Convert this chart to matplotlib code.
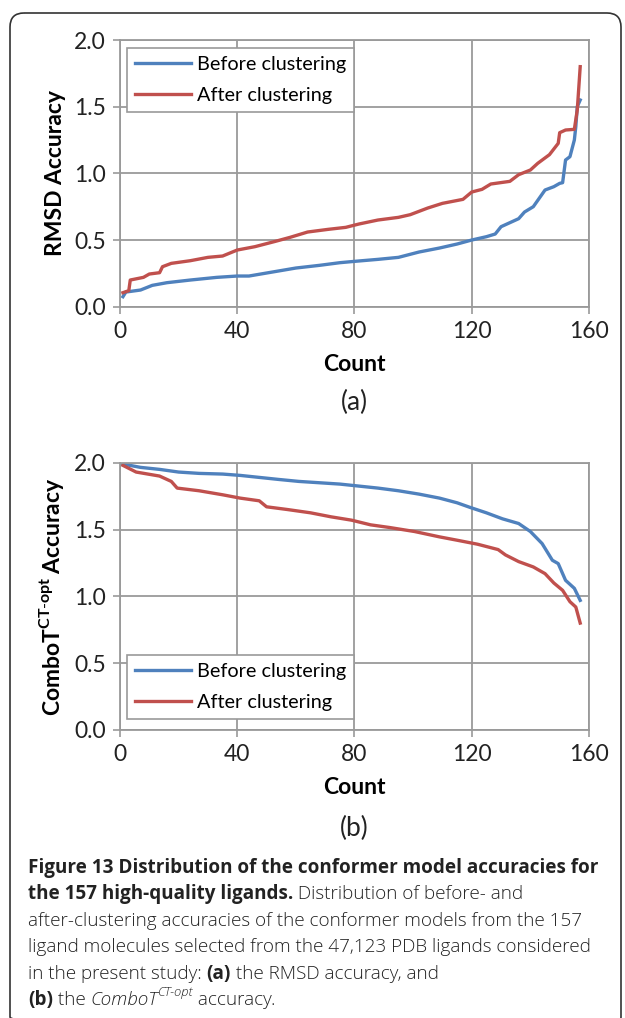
import matplotlib
matplotlib.use("Agg")
import matplotlib.pyplot as plt
from matplotlib.patches import FancyBboxPatch

# ---- data (count, accuracy) ----
rmsd_before_x = [1, 2, 7, 11, 16, 24, 33, 40, 44, 52, 60, 68, 75, 80, 88, 95, 102, 109,
                 115, 120, 125, 128, 130, 136, 138, 141, 145, 148, 150, 151, 152, 153.5,
                 155, 155.5, 156, 157]
rmsd_before_y = [0.075, 0.11, 0.125, 0.16, 0.18, 0.20, 0.22, 0.23, 0.23, 0.26, 0.29, 0.31,
                 0.33, 0.34, 0.355, 0.37, 0.41, 0.44, 0.47, 0.50, 0.525, 0.545, 0.60, 0.66,
                 0.71, 0.75, 0.875, 0.90, 0.925, 0.93, 1.10, 1.125, 1.25, 1.35, 1.50, 1.55]

rmsd_after_x = [1, 3, 3.5, 8, 10, 13.5, 14.5, 17.5, 24, 30, 35, 40, 46, 53, 58, 64, 71,
                77, 81.5, 88, 95, 99, 105, 110, 117, 120, 123.5, 126.5, 133, 136, 140,
                142.5, 146.5, 149.5, 150, 152, 155, 156, 157]
rmsd_after_y = [0.105, 0.12, 0.20, 0.22, 0.245, 0.255, 0.30, 0.325, 0.345, 0.37, 0.38,
                0.425, 0.45, 0.49, 0.52, 0.56, 0.58, 0.595, 0.62, 0.65, 0.67, 0.69, 0.74,
                0.775, 0.805, 0.86, 0.88, 0.92, 0.94, 0.99, 1.025, 1.075, 1.14, 1.225,
                1.305, 1.325, 1.33, 1.475, 1.80]

combo_before_x = [1, 7, 13.5, 20, 27, 35, 41, 47.5, 54, 61, 68, 75, 81.5, 88, 95, 102,
                  109, 115, 119.5, 125, 130.5, 136, 140, 144, 147.5, 149.5, 152, 155, 157]
combo_before_y = [1.99, 1.965, 1.95, 1.93, 1.92, 1.915, 1.905, 1.89, 1.875, 1.86, 1.85,
                  1.84, 1.825, 1.81, 1.79, 1.765, 1.735, 1.70, 1.665, 1.625, 1.58, 1.545,
                  1.485, 1.395, 1.27, 1.245, 1.12, 1.06, 0.97]

combo_after_x = [1, 5.5, 13.5, 17.5, 19.5, 27, 35, 41, 47.5, 50, 57, 65, 72, 79, 85.5,
                 92, 100.5, 109, 115, 122, 129, 131.5, 136, 141, 145, 148, 151, 153.5,
                 155.5, 157]
combo_after_y = [1.98, 1.93, 1.90, 1.86, 1.81, 1.79, 1.76, 1.735, 1.715, 1.67, 1.65,
                 1.625, 1.595, 1.57, 1.535, 1.515, 1.485, 1.445, 1.42, 1.39, 1.35, 1.31,
                 1.26, 1.22, 1.17, 1.10, 1.045, 0.96, 0.92, 0.80]

labels = ["Before clustering", "After clustering"]
x_ticks = [0, 40, 80, 120, 160]
y_ticks = [0.0, 0.5, 1.0, 1.5, 2.0]

blue = "#4F81BD"
red = "#C0504D"
grey = "#9A9A9A"

plt.rcParams['font.family'] = ['Lato', 'DejaVu Sans']
plt.rcParams['mathtext.fontset'] = 'custom'
plt.rcParams['mathtext.bf'] = 'Lato:bold'
plt.rcParams['mathtext.rm'] = 'Lato'

W, H = 625, 1018
fig = plt.figure(figsize=(W / 100, H / 100), dpi=100)

# overlay in pixel units for the frame and caption
ov = fig.add_axes([0, 0, 1, 1], zorder=-1)
ov.set_xlim(0, W)
ov.set_ylim(H, 0)
ov.axis("off")
ov.add_patch(FancyBboxPatch((10, 13), 611, 1018, boxstyle="round,pad=0,rounding_size=14",
                            fill=False, ec="#333333", lw=1.2))


def make_axes(top_px, bottom_px):
    ax = fig.add_axes([120 / W, 1 - bottom_px / H, 469 / W, (bottom_px - top_px) / H])
    ax.set_xlim(0, 160)
    ax.set_ylim(0, 2.0)
    ax.set_xticks(x_ticks)
    ax.set_yticks(y_ticks)
    ax.set_yticklabels([f"{v:.1f}" for v in y_ticks])
    ax.grid(True, color=grey, lw=1.3)
    ax.set_axisbelow(True)
    for s in ax.spines.values():
        s.set_color(grey)
        s.set_linewidth(1.3)
    ax.tick_params(direction="out", length=5, width=1.2, color=grey,
                   labelsize=16.5, pad=5, labelcolor="#222222")
    ax.set_xlabel("Count", fontsize=16.5, fontweight="bold", labelpad=9)
    return ax


ax1 = make_axes(40, 306.7)
ax1.plot(rmsd_before_x, rmsd_before_y, color=blue, lw=2.4, label=labels[0])
ax1.plot(rmsd_after_x, rmsd_after_y, color=red, lw=2.4, label=labels[1])
ax1.set_ylabel("RMSD Accuracy", fontsize=16.5, fontweight="bold", labelpad=6)
leg1 = ax1.legend(loc="upper left", bbox_to_anchor=(0.015, 0.97), borderaxespad=0,
                  fontsize=14.3, fancybox=False, edgecolor=grey, framealpha=1,
                  handlelength=2.8, handletextpad=0.3, labelspacing=0.7)
leg1.get_frame().set_linewidth(1.2)

ax2 = make_axes(462.7, 730)
ax2.plot(combo_before_x, combo_before_y, color=blue, lw=2.4, label=labels[0])
ax2.plot(combo_after_x, combo_after_y, color=red, lw=2.4, label=labels[1])
ax2.set_ylabel(r"$\mathbf{ComboT}^{\mathbf{CT\text{-}opt}}\,$Accuracy", fontsize=16.5,
               fontweight="bold", labelpad=6)
leg2 = ax2.legend(loc="lower left", bbox_to_anchor=(0.015, 0.041), borderaxespad=0,
                  fontsize=14.3, fancybox=False, edgecolor=grey, framealpha=1,
                  handlelength=2.8, handletextpad=0.3, labelspacing=0.7)
leg2.get_frame().set_linewidth(1.2)

ov.text(354, 402, "(a)", fontsize=19, ha="center", va="center", color="#222222")
ov.text(354, 828, "(b)", fontsize=19, ha="center", va="center", color="#222222")

# caption, drawn piece by piece
cap_font = ['Open Sans', 'DejaVu Sans']
cap_size = 13.6
renderer = fig.canvas.get_renderer()


def draw_line(y, pieces):
    x = 28
    for txt, style in pieces:
        kw = dict(fontsize=cap_size, family=cap_font, va="baseline", color="#222222")
        yy = y
        if style == "b":
            kw["fontweight"] = "bold"
        elif style == "n":
            kw["fontweight"] = "light"
        elif style == "i":
            kw["fontstyle"] = "italic"
            kw["fontweight"] = "light"
        elif style == "sup":
            kw["fontstyle"] = "italic"
            kw["fontweight"] = "light"
            kw["fontsize"] = cap_size * 0.68
            yy = y - 9
        t = ov.text(x, yy, txt, **kw)
        x += t.get_window_extent(renderer).width


caption = [
    (873, [("Figure 13 Distribution of the conformer model accuracies for", "b")]),
    (899, [("the 157 high-quality ligands.", "b"), (" Distribution of before- and", "n")]),
    (926, [("after-clustering accuracies of the conformer models from the 157", "n")]),
    (952, [("ligand molecules selected from the 47,123 PDB ligands considered", "n")]),
    (979, [("in the present study: ", "n"), ("(a)", "b"), (" the RMSD accuracy, and", "n")]),
    (1005, [("(b)", "b"), (" the ", "n"), ("ComboT", "i"), ("CT-opt", "sup"), (" accuracy.", "n")]),
]
for y, pieces in caption:
    draw_line(y, pieces)

fig.savefig("out.png", dpi=100)
